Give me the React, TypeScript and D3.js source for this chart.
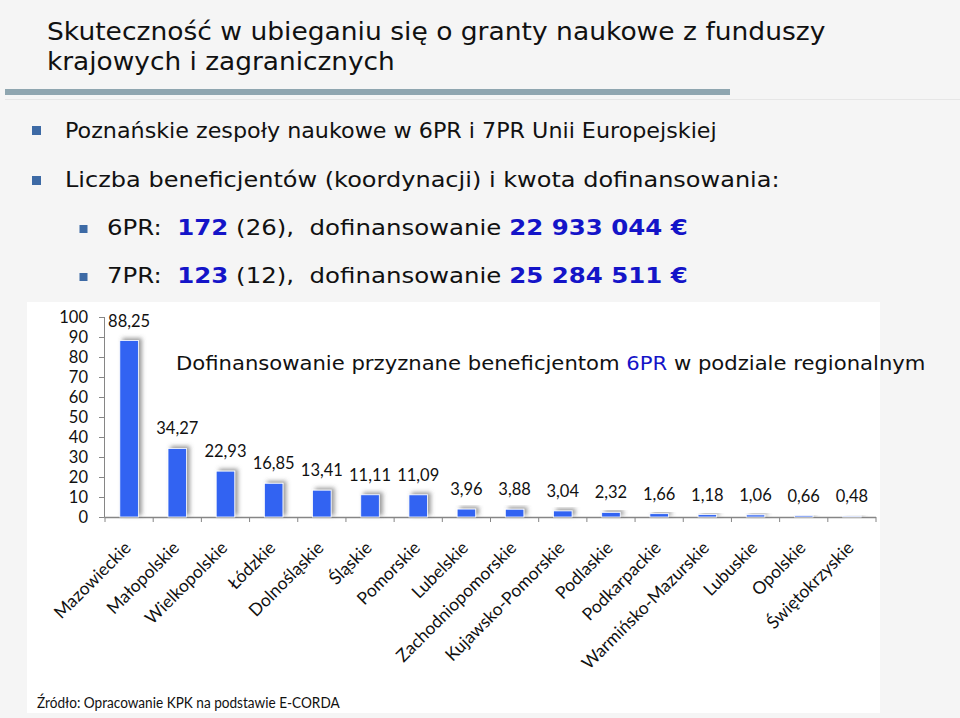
import React, { useLayoutEffect, useRef, useState } from "react";
import * as d3 from "d3";

const regions = [
  "Mazowieckie", "Małopolskie", "Wielkopolskie", "Łódzkie", "Dolnośląskie", "Śląskie",
  "Pomorskie", "Lubelskie", "Zachodniopomorskie", "Kujawsko-Pomorskie", "Podlaskie",
  "Podkarpackie", "Warmińsko-Mazurskie", "Lubuskie", "Opolskie", "Świętokrzyskie",
];
const funding = [88.25, 34.27, 22.93, 16.85, 13.41, 11.11, 11.09, 3.96, 3.88, 3.04, 2.32, 1.66, 1.18, 1.06, 0.66, 0.48];
const yTicks = [0, 10, 20, 30, 40, 50, 60, 70, 80, 90, 100];

const titleLines = ["Skuteczność w ubieganiu się o granty naukowe z funduszy", "krajowych i zagranicznych"];
const bullet1 = "Poznańskie zespoły naukowe w 6PR i 7PR Unii Europejskiej";
const bullet2 = "Liczba beneficjentów (koordynacji) i kwota dofinansowania:";
const programmes = [
  { name: "6PR:", count: "172", coord: "(26),", amount: "22 933 044 €" },
  { name: "7PR:", count: "123", coord: "(12),", amount: "25 284 511 €" },
];
const chartTitle = ["Dofinansowanie przyznane beneficjentom ", "6PR", " w podziale regionalnym"];
const source = "Źródło: Opracowanie KPK na podstawie E-CORDA";

const VERD = "'DejaVu Sans', Verdana, sans-serif";
const CAL = "Lato, 'Open Sans', sans-serif";
const BLUE = "#1414c8";
const BULLET = "#3d6aa5";

function FitText({ x, y, width, children, ...rest }: any) {
  const ref = useRef<SVGTextElement>(null);
  const [s, setS] = useState(1);
  useLayoutEffect(() => {
    if (ref.current) {
      const w = ref.current.getBBox().width;
      if (w > 0) setS(width / w);
    }
  }, [width]);
  return (
    <text ref={ref} x={0} y={0} transform={`translate(${x},${y}) scale(${s},1)`} style={{ whiteSpace: "pre" }} {...rest}>
      {children}
    </text>
  );
}

export default function App() {
  const W = 960, H = 718;
  const x = d3.scaleBand<string>().domain(regions).range([105, 876]).paddingInner(0.615).paddingOuter(0.3075);
  const step = x.step();
  const y = d3.scaleLinear().domain([0, 100]).range([517, 317]);
  const axisColor = "#868686";

  return (
    <svg width={W} height={H} style={{ position: "absolute", left: 0, top: 0, display: "block" }}>
      <defs>
        <filter id="sh" x="-50%" y="-50%" width="200%" height="200%">
          <feDropShadow dx="3" dy="-2" stdDeviation="2" floodColor="#555" floodOpacity="0.6" />
        </filter>
      </defs>
      <rect x={0} y={0} width={W} height={H} fill="#f5f5f5" />
      {/* Title */}
      <FitText x={47} y={40} width={779} fontFamily={VERD} fontSize={25} fill="#111">{titleLines[0]}</FitText>
      <FitText x={47} y={70} width={348} fontFamily={VERD} fontSize={25} fill="#111">{titleLines[1]}</FitText>
      <rect x={5} y={89} width={725} height={6} fill="#8fa6b0" />
      <rect x={5} y={99} width={955} height={1} fill="#e6e6e6" />

      {/* Bullets */}
      <rect x={32} y={126} width={9} height={9} fill={BULLET} />
      <FitText x={65} y={137.5} width={652} fontFamily={VERD} fontSize={21.5} fill="#111">{bullet1}</FitText>
      <rect x={32} y={176} width={9} height={9} fill={BULLET} />
      <FitText x={65} y={186.5} width={715} fontFamily={VERD} fontSize={21.5} fill="#111">{bullet2}</FitText>
      {programmes.map((p, i) => {
        const by = 235 + i * 48;
        return (
          <g key={p.name}>
            <rect x={79.5} y={by - 10} width={8} height={8} fill={BULLET} />
            <FitText x={107} y={by} width={581} fontFamily={VERD} fontSize={21.5} fill="#111">
              <tspan>{p.name + "  "}</tspan>
              <tspan fill={BLUE} fontWeight="bold">{p.count}</tspan>
              <tspan>{" " + p.coord + "  dofinansowanie "}</tspan>
              <tspan fill={BLUE} fontWeight="bold">{p.amount}</tspan>
            </FitText>
          </g>
        );
      })}

      {/* Chart area */}
      <rect x={27} y={302} width={853} height={411} fill="#ffffff" />

      {/* y axis */}
      <line x1={104.5} x2={104.5} y1={y(100)} y2={y(0)} stroke={axisColor} strokeWidth={1} />
      {yTicks.map((t) => (
        <g key={t}>
          <line x1={99} x2={104.5} y1={Math.round(y(t)) + 0.5} y2={Math.round(y(t)) + 0.5} stroke={axisColor} />
          <text x={88} y={y(t) + 6} textAnchor="end" fontFamily={CAL} fontSize={16.5} fill="#111">{t}</text>
        </g>
      ))}
      {/* x axis */}
      <line x1={104.5} x2={876} y1={517.5} y2={517.5} stroke={axisColor} strokeWidth={1.5} />
      {d3.range(regions.length + 1).map((i) => (
        <line key={i} x1={105 + i * step} x2={105 + i * step} y1={517} y2={522} stroke={axisColor} />
      ))}

      {/* Bars */}
      {regions.map((r, i) => {
        const v = funding[i];
        const top = y(v);
        return (
          <g key={r}>
            <rect x={x(r)!} y={top} width={x.bandwidth()} height={y(0) - top} fill="#3063f2" stroke="#ffffff" strokeWidth={0.8} filter="url(#sh)" />
            <text x={x(r)! + x.bandwidth() / 2} y={top - 14} textAnchor="middle" fontFamily={CAL} fontSize={16.5} fill="#111">
              {v.toFixed(2).replace(".", ",")}
            </text>
          </g>
        );
      })}

      {/* x labels */}
      {regions.map((r) => {
        const cx = x(r)! + x.bandwidth() / 2 + 3;
        return (
          <text key={r} transform={`translate(${cx},549) rotate(-45)`} textAnchor="end" fontFamily={CAL} fontSize={17.5} fill="#111">
            {r}
          </text>
        );
      })}

      {/* chart title */}
      <FitText x={176} y={370} width={750} fontFamily={VERD} fontSize={19.5} fill="#111">
        <tspan>{chartTitle[0]}</tspan>
        <tspan fill={BLUE}>{chartTitle[1]}</tspan>
        <tspan>{chartTitle[2]}</tspan>
      </FitText>

      {/* source */}
      <FitText x={37} y={708} width={303} fontFamily={CAL} fontSize={16} fill="#111">{source}</FitText>
    </svg>
  );
}
